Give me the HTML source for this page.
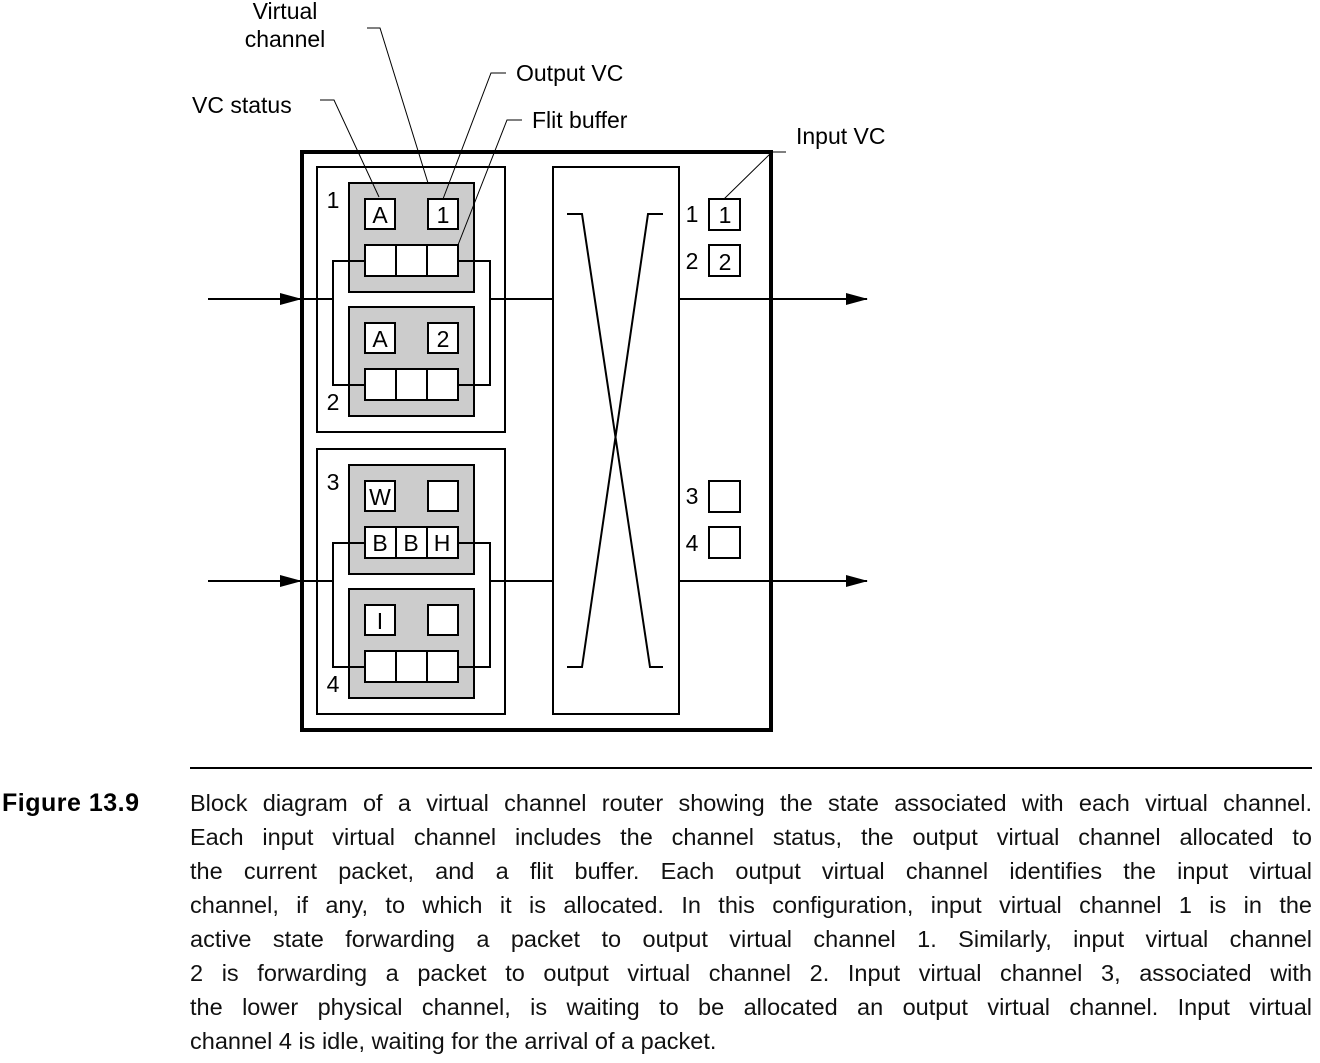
<!DOCTYPE html>
<html><head><meta charset="utf-8"><style>
body{margin:0;background:#fff;width:1320px;height:1063px;overflow:hidden;font-family:"Liberation Sans",sans-serif;}
svg{position:absolute;left:0;top:0}
.cap{position:absolute;left:190px;width:1122px;font-size:23.5px;line-height:34px;top:786px;color:#111}
.cap div{text-align:justify;text-align-last:justify;white-space:nowrap;height:34px}
.cap div.last{text-align-last:left}
.fig{position:absolute;left:2px;top:786px;font-size:25px;font-weight:bold;line-height:34px;letter-spacing:0.5px}
</style></head><body>
<svg width="1320" height="1063" font-family="Liberation Sans, sans-serif" font-size="23">
<defs><marker id="ar" markerWidth="22" markerHeight="12" refX="21" refY="6" orient="auto" markerUnits="userSpaceOnUse"><path d="M0,0 L22,6 L0,12z" fill="#000"/></marker></defs>
<g fill="none" stroke="#000">
<rect x="302" y="152" width="469" height="578" stroke-width="4"/>
<rect x="317" y="167" width="188" height="265" stroke-width="2"/>
<rect x="317" y="449" width="188" height="265" stroke-width="2"/>
<rect x="553" y="167" width="126" height="547" stroke-width="2"/>
</g>
<g id="grp">
<rect x="349" y="183" width="125" height="109" fill="#ccc" stroke="#000" stroke-width="2"/>
<rect x="349" y="307" width="125" height="109" fill="#ccc" stroke="#000" stroke-width="2"/>
<g fill="#fff" stroke="#000" stroke-width="2">
<rect x="365" y="199" width="30" height="30"/><rect x="428" y="199" width="30" height="30"/>
<rect x="365" y="245" width="31" height="31"/><rect x="396" y="245" width="31" height="31"/><rect x="427" y="245" width="31" height="31"/>
<rect x="365" y="323" width="30" height="30"/><rect x="428" y="323" width="30" height="30"/>
<rect x="365" y="369" width="31" height="31"/><rect x="396" y="369" width="31" height="31"/><rect x="427" y="369" width="31" height="31"/>
</g>
<g fill="none" stroke="#000" stroke-width="2">
<polyline points="365,261 333,261 333,385 365,385"/>
<polyline points="458,261 490,261 490,385 458,385"/>
<line x1="333" y1="299" x2="302" y2="299"/>
<line x1="490" y1="299" x2="553" y2="299"/>
</g>
</g>
<use href="#grp" y="282"/>
<g stroke="#000" stroke-width="2">
<line x1="208" y1="299" x2="301" y2="299" marker-end="url(#ar)"/>
<line x1="208" y1="581" x2="301" y2="581" marker-end="url(#ar)"/>
<line x1="679" y1="299" x2="867" y2="299" marker-end="url(#ar)"/>
<line x1="679" y1="581" x2="867" y2="581" marker-end="url(#ar)"/>
<polyline fill="none" points="567,214 582,214 650,667 663,667"/>
<polyline fill="none" points="663,214 648,214 582,667 567,667"/>
</g>
<g fill="#fff" stroke="#000" stroke-width="2">
<rect x="709" y="199" width="31" height="31"/><rect x="709" y="245" width="31" height="31"/>
<rect x="709" y="481" width="31" height="31"/><rect x="709" y="527" width="31" height="31"/>
</g>
<g fill="none" stroke="#000" stroke-width="1">
<polyline points="320,100 334,100 379,197"/>
<polyline points="367,28 380,28 428,183"/>
<polyline points="506,73 491,73 443,199"/>
<polyline points="522,120 507,120 458,245"/>
<polyline points="786,152 772,152 724,199"/>
</g>
<g fill="#000" text-anchor="middle">
<text x="380" y="223">A</text><text x="443" y="223">1</text>
<text x="380" y="347">A</text><text x="443" y="347">2</text>
<text x="380" y="505">W</text>
<text x="380" y="551">B</text><text x="411" y="551">B</text><text x="442" y="551">H</text>
<text x="380" y="629">I</text>
<text x="333" y="208">1</text><text x="333" y="410">2</text>
<text x="333" y="490">3</text><text x="333" y="692">4</text>
<text x="692" y="222">1</text><text x="725" y="223">1</text>
<text x="692" y="269">2</text><text x="725" y="270">2</text>
<text x="692" y="504">3</text><text x="692" y="551">4</text>
<text x="285" y="19">Virtual</text><text x="285" y="47">channel</text>
</g>
<g fill="#000">
<text x="192" y="113">VC status</text>
<text x="516" y="81">Output VC</text>
<text x="532" y="128">Flit buffer</text>
<text x="796" y="144">Input VC</text>
</g>
<line x1="190" y1="768" x2="1312" y2="768" stroke="#000" stroke-width="2"/>
</svg>
<div class="fig">Figure 13.9</div>
<div class="cap">
<div>Block diagram of a virtual channel router showing the state associated with each virtual channel.</div>
<div>Each input virtual channel includes the channel status, the output virtual channel allocated to</div>
<div>the current packet, and a flit buffer. Each output virtual channel identifies the input virtual</div>
<div>channel, if any, to which it is allocated. In this configuration, input virtual channel 1 is in the</div>
<div>active state forwarding a packet to output virtual channel 1. Similarly, input virtual channel</div>
<div>2 is forwarding a packet to output virtual channel 2. Input virtual channel 3, associated with</div>
<div>the lower physical channel, is waiting to be allocated an output virtual channel. Input virtual</div>
<div class="last">channel 4 is idle, waiting for the arrival of a packet.</div>
</div>
</body></html>
